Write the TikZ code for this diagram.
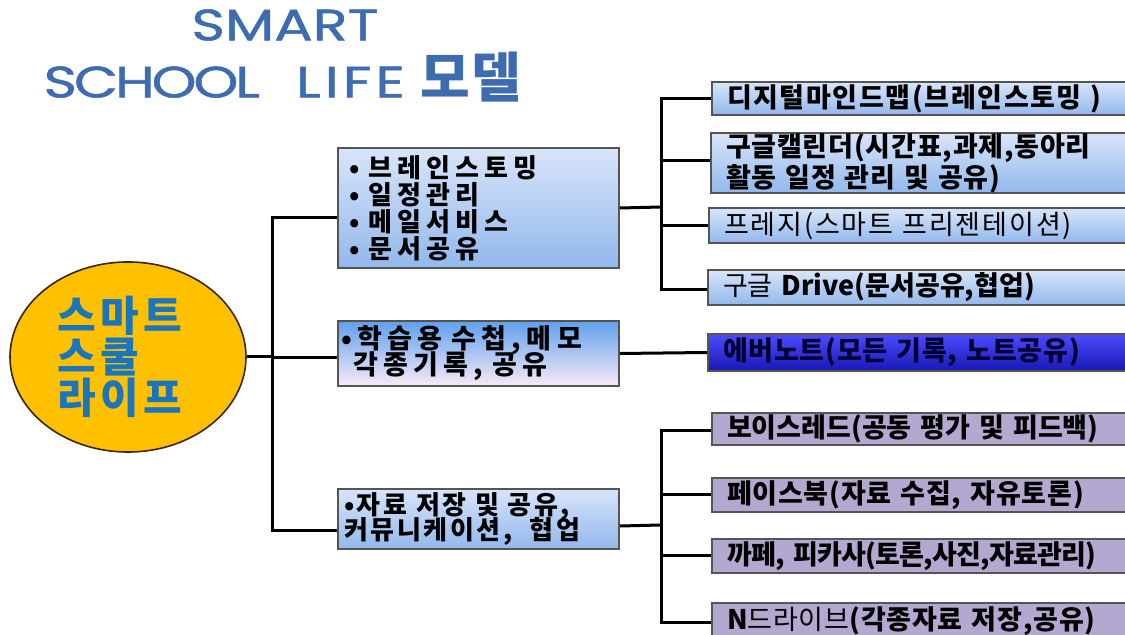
\documentclass[tikz,border=0pt]{standalone}
\usepackage{fontspec}
\usepackage{xcolor}
\usepackage{tikz}
\usetikzlibrary{positioning, shapes.geometric}
\setmainfont[LetterSpace=3]{Noto Sans CJK KR}
\newfontfamily\boxfont[LetterSpace=10]{Noto Sans CJK KR}
\newfontfamily\widefont[LetterSpace=20]{Noto Sans CJK KR}
\newfontfamily\titlefont[FakeStretch=1.3, FakeBold=1.2]{Poppins}
\newcommand\tightskip{\setlength{\lineskiplimit}{-20pt}}
\definecolor{boxtop}{RGB}{216,229,250}
\definecolor{boxbot}{RGB}{146,184,236}
\definecolor{notetop}{RGB}{96,160,238}
\definecolor{notebot}{RGB}{248,234,246}
\definecolor{evertop}{RGB}{76,76,255}
\definecolor{everbot}{RGB}{24,24,180}
\definecolor{boxpurple}{RGB}{180,167,208}
\definecolor{lifeorange}{RGB}{255,192,0}
\definecolor{lifeblue}{RGB}{27,117,188}
\definecolor{titleblue}{RGB}{62,108,176}
\definecolor{edgegray}{RGB}{85,85,85}

\begin{document}
\begin{tikzpicture}[
  x=0.5pt, y=-0.5pt,
  line width=1.5pt,
  cat/.style={draw=edgegray, line width=1pt, anchor=north west, align=left, inner xsep=5.5pt, inner ysep=0pt, text width=129.5pt, top color=boxtop, bottom color=boxbot},
  tool/.style={draw=edgegray, line width=1pt, anchor=north west, align=left, inner xsep=7.5pt, inner ysep=0pt, text width=197.5pt, top color=boxtop, bottom color=boxbot, font=\bfseries\fontsize{13.5}{13.5}\selectfont},
  web/.style={tool, fill=boxpurple, top color=boxpurple, bottom color=boxpurple},
  title/.style={text=titleblue, inner sep=0pt, font=\titlefont\fontsize{22}{22}\selectfont},
]
\useasboundingbox (0,0) rectangle (1125,635);
\clip (0,0) rectangle (1125,635);

\node[title] (smart) at (285,25) {SMART};
\node[title, anchor=west] (school) at (42,77) {{\addfontfeatures{LetterSpace=-7}SCHOOL}\hspace{18pt}{\addfontfeatures{LetterSpace=9}LIFE} {\rmfamily\bfseries\fontsize{27}{27}\selectfont 모델}};

\node[ellipse, draw=black!70!brown, line width=0.8pt, fill=lifeorange, minimum width=118pt, minimum height=83pt, align=left, text=lifeblue, font=\boxfont\bfseries\fontsize{21}{18.5}\selectfont] (life) at (128,357) {스마트\\스쿨\\라이프\hspace*{8pt}};

\node[cat, minimum height=60pt, font={\widefont\bfseries\fontsize{13}{13.5}\selectfont\tightskip}] (tools) at (337,147) {• 브레인스토밍\\• 일정관리\\• 메일서비스\\• 문서공유};
\node[cat, minimum height=32.5pt, inner xsep=1.5pt, text width=137.5pt, top color=notetop, bottom color=notebot, font={\widefont\bfseries\fontsize{13.5}{13}\selectfont\tightskip}] (notes) at (337,320) {•학습용 수첩,메모\\\hspace*{6pt}각종기록, 공유};
\node[cat, minimum height=30pt, inner xsep=3pt, text width=134.5pt, font={\boxfont\bfseries\fontsize{13}{12.5}\selectfont\tightskip}] (share) at (337,488) {•자료 저장 및 공유,\\커뮤니케이션,\ \ 협업};

\node[tool, minimum height=16.5pt] (mind) at (711,81) {\addfontfeatures{LetterSpace=6}디지털마인드맵(브레인스토밍 )};
\node[tool, minimum height=30pt] (cal) at (710,132) {구글캘린더(시간표,과제,동아리\\활동 일정 관리 및 공유)};
\node[tool, minimum height=17.5pt, font=\fontsize{13.5}{13.5}\selectfont] (prezi) at (708,207) {\addfontfeatures{LetterSpace=7}프레지(스마트 프리젠테이션)};
\node[tool, minimum height=17.5pt] (drive) at (707,269) {\addfontfeatures{LetterSpace=0}{\mdseries 구글} Drive(문서공유,협업)};
\node[tool, minimum height=18.5pt, top color=evertop, bottom color=everbot, text=black!80!blue] (ever) at (707,333) {에버노트(모든 기록, 노트공유)};

\node[web, minimum height=16pt] (voice) at (711,412) {\addfontfeatures{LetterSpace=0}보이스레드(공동 평가 및 피드백)};
\node[web, minimum height=17pt] (book) at (711,477) {페이스북(자료 수집, 자유토론)};
\node[web, minimum height=17pt] (cafe) at (711,538) {\addfontfeatures{LetterSpace=-3}까페, 피카사(토론,사진,자료관리)};
\node[web, minimum height=18pt] (ndrive) at (711,602) {N{\mdseries 드라이브}(각종자료 저장,공유)};

\coordinate (trunk) at (272,357);
\coordinate (hub1) at (661,207);
\coordinate (hub3) at (661,525);

\draw (life.east) -- (trunk);
\draw (trunk) |- ([yshift=-5pt]tools.west);
\draw (trunk) |- ([yshift=-2pt]notes.west);
\draw (trunk) |- ([yshift=-6pt]share.west);

\draw (tools.east) -- (hub1);
\draw (hub1) |- (mind.west);
\draw (hub1) |- ([yshift=1pt]cal.west);
\draw (hub1) |- (prezi.west);
\draw (hub1) |- ([yshift=-1pt]drive.west);
\draw (notes.east) -- (ever.west);

\draw ([yshift=-3.5pt]share.east) -- (hub3);
\draw (hub3) |- ([yshift=-1pt]voice.west);
\draw (hub3) |- (book.west);
\draw (hub3) |- (cafe.west);
\draw (hub3) |- ([yshift=-1pt]ndrive.west);
\end{tikzpicture}
\end{document}
